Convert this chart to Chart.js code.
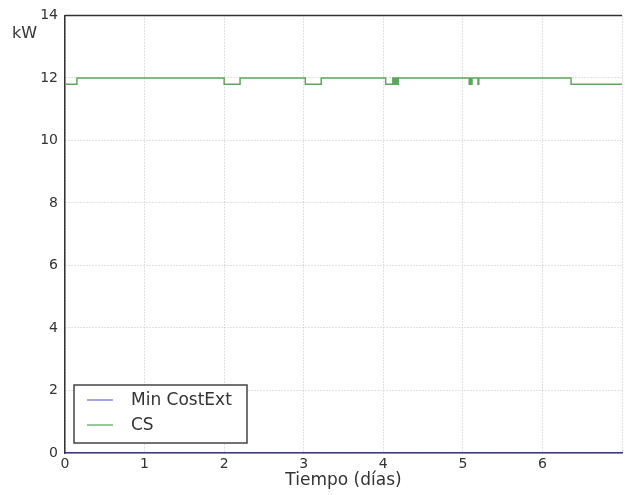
<!DOCTYPE html>
<html>
<head>
<meta charset="utf-8">
<script src="https://cdn.jsdelivr.net/npm/chart.js@4.4.0/dist/chart.umd.min.js"></script>
<style>
  html, body { margin: 0; padding: 0; background: #fff; }
  #wrap { width: 625px; height: 495px; }
</style>
</head>
<body>
<div id="wrap"><canvas id="powerChart" width="625" height="495"></canvas></div>
<script>
// series data (days, kW); CS is a step series, each value starts at its x
const minCostX = [0, 7];
const minCostY = [0, 0];

const csX = [0, 0.15, 2.0, 2.2, 3.02, 3.22, 4.03, 4.12,
  4.125, 4.13, 4.135, 4.14, 4.145, 4.15, 4.155, 4.16, 4.165, 4.17, 4.175, 4.18, 4.185, 4.19, 4.2,
  5.08, 5.085, 5.09, 5.095, 5.1, 5.105, 5.11, 5.115, 5.12, 5.19, 5.2, 6.36, 7];
const csY = [11.8, 12, 11.8, 12, 11.8, 12, 11.8, 12,
  11.8, 12, 11.8, 12, 11.8, 12, 11.8, 12, 11.8, 12, 11.8, 12, 11.8, 12, 12,
  11.8, 12, 11.8, 12, 11.8, 12, 11.8, 12, 12, 11.8, 12, 11.8, 11.8];

const xTicks = [0, 1, 2, 3, 4, 5, 6, 7];
const yTicks = [0, 2, 4, 6, 8, 10, 12, 14];

const seriesLabels = ["Min CostExt", "CS"];
const seriesColors = ["#8585dc", "#74b874"];

const FONT = "'DejaVu Sans', sans-serif";

function toPoints(xs, ys) {
  return xs.map((x, i) => ({ x: x, y: ys[i] }));
}

// frame on top, the "kW" label and the boxed legend inside the plot
const framePlugin = {
  id: "frame",
  afterDraw(chart) {
    const { ctx, chartArea } = chart;
    ctx.save();
    ctx.strokeStyle = "#333";
    ctx.lineWidth = 1.5;
    ctx.beginPath();
    ctx.moveTo(chartArea.left, chartArea.top);
    ctx.lineTo(chartArea.right, chartArea.top);
    ctx.stroke();

    ctx.fillStyle = "#333";
    ctx.font = "16px " + FONT;
    ctx.textAlign = "left";
    ctx.textBaseline = "middle";
    ctx.fillText("kW", 12, 34);

    // legend box
    const bx = 74, by = 385, bw = 173, bh = 58;
    ctx.fillStyle = "#fff";
    ctx.fillRect(bx, by, bw, bh);
    ctx.strokeStyle = "#444";
    ctx.lineWidth = 1.5;
    ctx.strokeRect(bx, by, bw, bh);
    ctx.font = "17px " + FONT;
    seriesLabels.forEach((label, i) => {
      const ly = by + 15 + i * 25;
      ctx.strokeStyle = seriesColors[i];
      ctx.lineWidth = 1.5;
      ctx.beginPath();
      ctx.moveTo(87, ly);
      ctx.lineTo(113, ly);
      ctx.stroke();
      ctx.fillStyle = "#333";
      ctx.fillText(label, 131, ly + 1);
    });
    ctx.restore();
  }
};

const ctx = document.getElementById("powerChart").getContext("2d");
new Chart(ctx, {
  type: "scatter",
  data: {
    datasets: [
      {
        label: seriesLabels[0],
        data: toPoints(minCostX, minCostY),
        showLine: true,
        borderColor: "#3a3a80",
        borderWidth: 2,
        pointRadius: 0
      },
      {
        label: seriesLabels[1],
        data: toPoints(csX, csY),
        showLine: true,
        stepped: "before",
        borderColor: "#5ea65e",
        borderWidth: 1.5,
        pointRadius: 0
      }
    ]
  },
  options: {
    responsive: false,
    animation: false,
    layout: { padding: { top: 15, right: 0, left: 0, bottom: 0 } },
    plugins: {
      legend: { display: false },
      tooltip: { enabled: false }
    },
    scales: {
      x: {
        type: "linear",
        min: 0,
        max: 7,
        afterBuildTicks(axis) {
          axis.ticks = xTicks.map(v => ({ value: v }));
        },
        afterFit(axis) { axis.height = 42; },
        ticks: {
          color: "#333",
          font: { family: FONT, size: 14 },
          padding: 3,
          maxRotation: 0,
          callback: v => (v === 7 ? "" : v)
        },
        grid: {
          color: "#c4c4c4",
          drawTicks: false
        },
        border: { color: "#333", width: 1.5, dash: [1, 2] },
        title: {
          display: true,
          text: "Tiempo (días)",
          color: "#333",
          font: { family: FONT, size: 17 },
          padding: { top: 0, bottom: 4 }
        }
      },
      y: {
        min: 0,
        max: 14,
        afterBuildTicks(axis) {
          axis.ticks = yTicks.map(v => ({ value: v }));
        },
        afterFit(axis) { axis.width = 65; },
        ticks: {
          color: "#333",
          font: { family: FONT, size: 14 },
          padding: 7
        },
        grid: {
          color: "#c4c4c4",
          drawTicks: false
        },
        border: { color: "#333", width: 1.5, dash: [1, 2] }
      }
    }
  },
  plugins: [framePlugin]
});
</script>
</body>
</html>
